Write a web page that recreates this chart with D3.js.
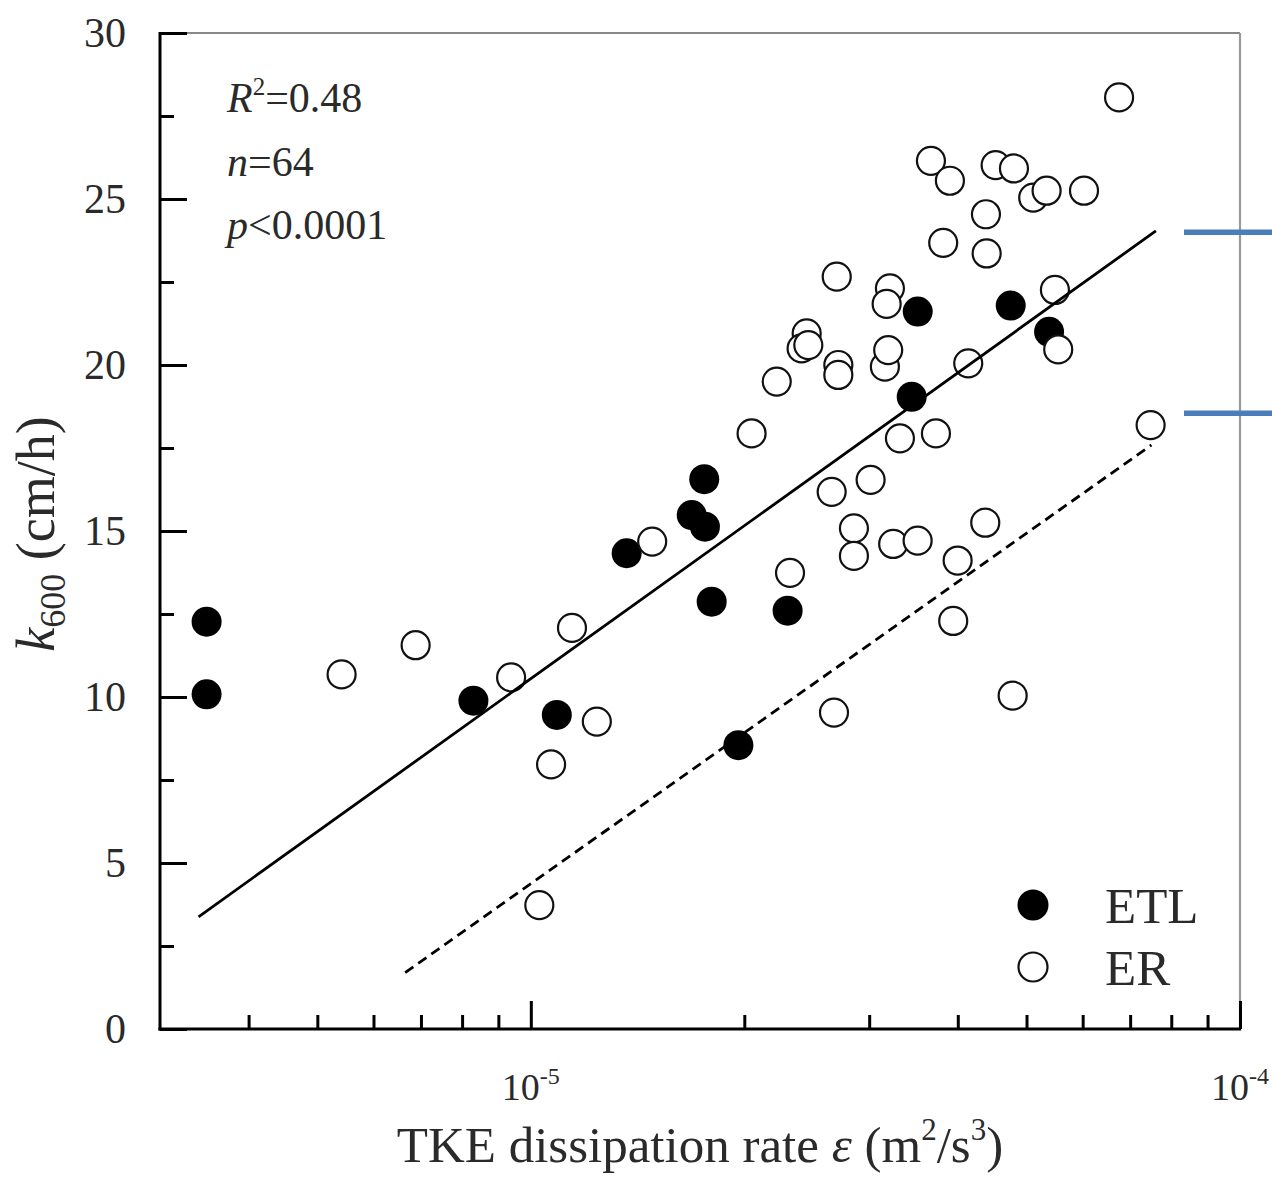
<!DOCTYPE html>
<html><head><meta charset="utf-8">
<script src="https://cdn.jsdelivr.net/npm/d3@7"></script>
<style>body{margin:0;background:#fff}</style>
</head><body>
<svg id="c" width="1272" height="1180"></svg>
<script>
// ---- data ----
const etlX = [3.49e-6, 3.49e-6, 8.30e-6, 1.088e-5, 1.365e-5, 1.686e-5, 1.756e-5, 1.760e-5, 1.799e-5, 1.962e-5, 2.302e-5, 3.444e-5, 3.512e-5, 4.75e-5, 5.38e-5];
const etlY = [12.27, 10.08, 9.89, 9.46, 14.33, 15.48, 16.56, 15.13, 12.87, 8.55, 12.60, 19.04, 21.61, 21.79, 21.00];
const erX = [5.41e-6, 6.88e-6, 9.38e-6, 1.028e-5, 1.068e-5, 1.143e-5, 1.239e-5, 1.483e-5, 2.048e-5, 2.222e-5,
  2.320e-5, 2.449e-5, 2.409e-5, 2.462e-5, 2.656e-5, 2.700e-5, 2.714e-5, 2.714e-5, 2.676e-5, 2.855e-5,
  2.855e-5, 3.014e-5, 3.157e-5, 3.191e-5, 3.209e-5, 3.175e-5, 3.243e-5, 3.315e-5, 3.511e-5, 3.666e-5,
  3.726e-5, 3.815e-5, 3.899e-5, 3.941e-5, 3.998e-5, 4.138e-5, 4.373e-5, 4.383e-5, 4.393e-5, 4.523e-5,
  4.780e-5, 4.800e-5, 5.110e-5, 5.337e-5, 5.483e-5, 5.542e-5, 6.026e-5, 6.753e-5, 7.481e-5];
const erY = [10.68, 11.56, 10.59, 3.73, 7.97, 12.08, 9.26, 14.68, 17.94, 19.50,
  13.74, 20.95, 20.50, 20.60, 16.18, 22.66, 20.00, 19.70, 9.53, 15.08,
  14.25, 16.54, 19.95, 20.45, 22.31, 21.84, 14.61, 17.79, 14.71, 26.15,
  17.94, 23.68, 25.55, 12.29, 14.11, 20.05, 15.25, 24.54, 23.36, 26.02,
  10.04, 25.92, 25.04, 25.25, 22.26, 20.47, 25.25, 28.06, 18.19];
const fitAllX = [3.40e-6, 7.61e-5];
const fitAllY = [3.38, 24.04];
const fitErX = [6.65e-6, 7.50e-5];
const fitErY = [1.70, 17.59];
const markY = [24.0, 18.55];
const yTicks = [0, 5, 10, 15, 20, 25, 30];
const yMinor = [2.5, 7.5, 12.5, 17.5, 22.5, 27.5];
const xMajor = [1e-5, 1e-4];
const xMajorExp = ["-5", "-4"];
const xMinor = [4e-6, 5e-6, 6e-6, 7e-6, 8e-6, 9e-6, 2e-5, 3e-5, 4e-5, 5e-5, 6e-5, 7e-5, 8e-5, 9e-5];
const legendLabels = ["ETL", "ER"];

// ---- drawing ----
const FONT = "'Liberation Serif','Times New Roman',serif";
const svg = d3.select("#c");
svg.append("rect").attr("width", 1272).attr("height", 1180).attr("fill", "#fff");
const x = d3.scaleLog().domain([3e-6, 1e-4]).range([160, 1240]);
const y = d3.scaleLinear().domain([0, 30]).range([1029, 33]);

// frame (top/right gray)
svg.append("line").attr("x1", 160).attr("x2", 1240).attr("y1", y(30)).attr("y2", y(30))
  .attr("stroke", "#888").attr("stroke-width", 2);
svg.append("line").attr("x1", 1240).attr("x2", 1240).attr("y1", y(30)).attr("y2", y(0))
  .attr("stroke", "#999").attr("stroke-width", 2.2);

// y axis
const gy = svg.append("g").attr("transform", "translate(160,0)")
  .call(d3.axisLeft(y).tickValues(yTicks).tickSize(-27).tickPadding(34).tickFormat(d3.format("d")));
const gym = svg.append("g").attr("transform", "translate(160,0)")
  .call(d3.axisLeft(y).tickValues(yMinor).tickSize(-14).tickFormat(""));
// x axis
const gx = svg.append("g").attr("transform", "translate(0,1029)")
  .call(d3.axisBottom(x).tickValues(xMajor).tickSize(-28).tickFormat(""));
const gxm = svg.append("g").attr("transform", "translate(0,1029)")
  .call(d3.axisBottom(x).tickValues(xMinor).tickSize(-14).tickFormat(""));
[gy, gym, gx, gxm].forEach(g => {
  g.select(".domain").remove();
  g.selectAll(".tick line").attr("stroke", "#000").attr("stroke-width", 3);
});
gy.selectAll(".tick text").attr("font-family", FONT).attr("font-size", 42).attr("fill", "#2a2a2a");

// axis lines
svg.append("line").attr("x1", 160).attr("x2", 160).attr("y1", y(30) - 1).attr("y2", y(0) + 1.5)
  .attr("stroke", "#000").attr("stroke-width", 3);
svg.append("line").attr("x1", 158.5).attr("x2", 1241).attr("y1", y(0)).attr("y2", y(0))
  .attr("stroke", "#000").attr("stroke-width", 3);

// x tick labels with superscripts
xMajor.forEach((v, i) => {
  const t = svg.append("text").attr("x", x(v)).attr("y", 1100).attr("text-anchor", "middle")
    .attr("font-family", FONT).attr("font-size", 38).attr("fill", "#2a2a2a");
  t.append("tspan").text("10");
  t.append("tspan").attr("dy", -16).attr("font-size", 24).text(xMajorExp[i]);
});

// points
svg.append("g").selectAll("circle").data(etlX.map((d, i) => [d, etlY[i]])).join("circle")
  .attr("cx", d => x(d[0])).attr("cy", d => y(d[1])).attr("r", 15).attr("fill", "#000");
svg.append("g").selectAll("circle").data(erX.map((d, i) => [d, erY[i]])).join("circle")
  .attr("cx", d => x(d[0])).attr("cy", d => y(d[1])).attr("r", 14)
  .attr("fill", "#fff").attr("stroke", "#111").attr("stroke-width", 2.2);

// fit lines
const line = d3.line().x(d => x(d[0])).y(d => y(d[1]));
svg.append("path").attr("d", line(fitAllX.map((d, i) => [d, fitAllY[i]])))
  .attr("stroke", "#000").attr("stroke-width", 2.8).attr("fill", "none");
svg.append("path").attr("d", line(fitErX.map((d, i) => [d, fitErY[i]])))
  .attr("stroke", "#000").attr("stroke-width", 2.8).attr("fill", "none").attr("stroke-dasharray", "10,6");

// blue marks on right
markY.forEach(v => {
  svg.append("line").attr("x1", 1184).attr("x2", 1272).attr("y1", y(v)).attr("y2", y(v))
    .attr("stroke", "#4a7ebb").attr("stroke-width", 5.5);
});

// stats text
const st = [["R", "2", "=0.48"], ["n", null, "=64"], ["p", null, "<0.0001"]];
st.forEach((s, i) => {
  const t = svg.append("text").attr("x", 227).attr("y", 112 + i * 63.5)
    .attr("font-family", FONT).attr("font-size", 42).attr("fill", "#2a2a2a");
  t.append("tspan").attr("font-style", "italic").text(s[0]);
  if (s[1]) t.append("tspan").attr("dy", -17).attr("font-size", 25).text(s[1]);
  t.append("tspan").attr("dy", s[1] ? 17 : 0).text(s[2]);
});

// axis titles
const xt = svg.append("text").attr("x", 700).attr("y", 1162).attr("text-anchor", "middle")
  .attr("font-family", FONT).attr("font-size", 51).attr("fill", "#2a2a2a");
xt.append("tspan").text("TKE dissipation rate ");
xt.append("tspan").attr("font-style", "italic").text("ε");
xt.append("tspan").text(" (m");
xt.append("tspan").attr("dy", -22).attr("font-size", 31).text("2");
xt.append("tspan").attr("dy", 22).text("/s");
xt.append("tspan").attr("dy", -22).attr("font-size", 31).text("3");
xt.append("tspan").attr("dy", 22).text(")");

const yt = svg.append("text").attr("transform", "translate(54,534) rotate(-90)").attr("text-anchor", "middle")
  .attr("font-family", FONT).attr("font-size", 54).attr("fill", "#2a2a2a");
yt.append("tspan").attr("font-style", "italic").text("k");
yt.append("tspan").attr("dy", 11).attr("font-size", 36).text("600");
yt.append("tspan").attr("dy", -11).text(" (cm/h)");

// legend
legendLabels.forEach((lab, i) => {
  const cy = 905 + i * 62;
  const c = svg.append("circle").attr("cx", 1033).attr("cy", cy);
  if (i === 0) c.attr("r", 15.5).attr("fill", "#000");
  else c.attr("r", 14.5).attr("fill", "#fff").attr("stroke", "#111").attr("stroke-width", 2.2);
  svg.append("text").attr("x", 1105).attr("y", cy + 18).attr("font-family", FONT)
    .attr("font-size", 51).attr("fill", "#2a2a2a").text(lab);
});
</script>
</body></html>
